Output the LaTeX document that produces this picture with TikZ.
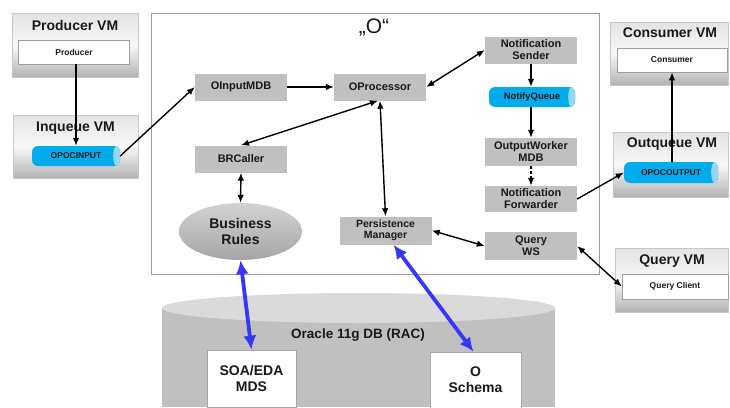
\documentclass[tikz,border=0pt]{standalone}
\usepackage{fontspec}
\setmainfont{Liberation Sans}
\usetikzlibrary{arrows.meta,shapes.geometric}
\definecolor{boxgray}{RGB}{192,192,192}
\definecolor{qblue}{RGB}{0,172,236}
\definecolor{qblueend}{RGB}{150,215,245}
\definecolor{arrblue}{RGB}{55,55,250}
\definecolor{txt}{RGB}{25,25,25}
\definecolor{dbbody}{RGB}{192,192,192}
\definecolor{dbtop}{RGB}{218,218,218}
\begin{document}
\begin{tikzpicture}[x=1pt,y=-1pt,
  comp/.style={fill=boxgray, minimum width=92pt, minimum height=27pt, inner sep=0pt, align=center,
    font=\bfseries\fontsize{11}{12}\selectfont, text=txt},
  vmbox/.style={draw=gray!45, line width=0.4pt, top color=gray!22, bottom color=gray!60, middle color=gray!5, inner sep=0pt},
  vmtitle/.style={font=\bfseries\fontsize{14}{15}\selectfont, text=txt, inner sep=0pt},
  inbox/.style={draw=gray!75, fill=white, line width=0.6pt, inner sep=0pt, font=\bfseries\fontsize{8.5}{9}\selectfont, text=txt},
  queue/.style={fill=qblue, rounded corners=6pt, inner sep=0pt, font=\bfseries\fontsize{8.5}{9}\selectfont, text=txt},
  arr/.style={-{Latex[length=8pt,width=6.5pt]}, line width=1.4pt, black},
  barr/.style={{Latex[length=8pt,width=6.5pt]}-{Latex[length=8pt,width=6.5pt]}, line width=1.4pt, black},
  bluearr/.style={{Latex[length=14pt,width=13pt]}-{Latex[length=14pt,width=13pt]}, line width=3.8pt, arrblue},
  dbbox/.style={draw=gray!70, fill=white, line width=0.6pt, inner sep=0pt, align=center,
    font=\bfseries\fontsize{14}{16}\selectfont, text=txt}
]
\useasboundingbox (0,0) rectangle (730,407);
\fill[white] (0,0) rectangle (730,407);

% ---------- Database cylinder ----------
\fill[dbbody] (162,308) rectangle (555,407);
\fill[dbtop] (358.5,308) ellipse [x radius=196.5pt, y radius=15pt];
\node[font=\bfseries\fontsize{13.5}{15}\selectfont, text=txt] (db) at (358,335) {Oracle 11g DB (RAC)};
\node[dbbox, minimum width=89pt, minimum height=57pt] (soa) at (251.5,378.5) {SOA/EDA\\MDS};
\node[dbbox, minimum width=91pt, minimum height=56pt] (osch) at (475.5,380) {O\\Schema};

% ---------- Main "O" box ----------
\node[draw=gray!75, line width=0.7pt, minimum width=448pt, minimum height=261pt, inner sep=0pt] (obox) at (375,143.5) {};
\node[font=\fontsize{21}{22}\selectfont, text=txt] (otitle) at (374,28) {„O“};

\node[comp] (oinput) at (241,87) {OInputMDB};
\node[comp] (oproc) at (380,87) {OProcessor};
\node[comp] (brc) at (241,159) {BRCaller};
\node[comp, minimum height=28pt, font=\bfseries\fontsize{10.5}{11.5}\selectfont] (pm) at (385.5,230.5) {Persistence\\Manager};
\node[ellipse, minimum width=123pt, minimum height=57pt, inner sep=0pt, top color=gray!35, middle color=gray!48, bottom color=gray!70,
  align=center, font=\bfseries\fontsize{14}{16}\selectfont, text=txt] (br) at (240.5,231.5) {Business\\Rules};
\node[comp] (nsend) at (531,50) {Notification\\Sender};
\node[queue, minimum width=86pt, minimum height=20pt, font=\bfseries\fontsize{9.5}{10}\selectfont] (nq) at (532,97) {NotifyQueue};
\fill[qblueend] ([xshift=-3.5pt]nq.east) ellipse [x radius=3.5pt, y radius=10pt];
\node[comp, minimum height=28pt] (ow) at (531,152) {OutputWorker\\MDB};
\node[comp, minimum height=26pt] (nfwd) at (531,199) {Notification\\Forwarder};
\node[comp, minimum height=28pt] (qws) at (531,246) {Query\\WS};

% ---------- Producer VM ----------
\node[vmbox, minimum width=126pt, minimum height=64pt] (prodvm) at (75,45) {};
\node[vmtitle] (prodt) at (75,25) {Producer VM};
\node[inbox, minimum width=111pt, minimum height=24pt] (prodin) at (74,52) {Producer};

% ---------- Inqueue VM ----------
\node[vmbox, minimum width=125pt, minimum height=63pt] (inqvm) at (75.5,146.5) {};
\node[vmtitle] (inqt) at (75.5,128) {Inqueue VM};
\node[queue, minimum width=88pt, minimum height=20pt] (inq) at (76,156) {OPOCINPUT};
\fill[qblueend] ([xshift=-3.5pt]inq.east) ellipse [x radius=3.5pt, y radius=10pt];

% ---------- Consumer VM ----------
\node[vmbox, minimum width=118pt, minimum height=63pt] (consvm) at (669,53.5) {};
\node[vmtitle] (const) at (670,33) {Consumer VM};
\node[inbox, minimum width=110pt, minimum height=24pt] (cons) at (672,60) {Consumer};

% ---------- Outqueue VM ----------
\node[vmbox, minimum width=115pt, minimum height=65pt] (outvm) at (670.5,164.5) {};
\node[vmtitle] (outt) at (672,144) {Outqueue VM};
\node[queue, minimum width=94pt, minimum height=21pt] (outq) at (671,172.5) {OPOCOUTPUT};
\fill[qblueend] ([xshift=-3.5pt]outq.east) ellipse [x radius=3.5pt, y radius=10.5pt];

% ---------- Query VM ----------
\node[vmbox, minimum width=113pt, minimum height=64pt] (qvm) at (671.5,280) {};
\node[vmtitle] (qt) at (672,261) {Query VM};
\node[inbox, minimum width=106pt, minimum height=25pt] (qc) at (675,286.5) {Query Client};

% ---------- Connectors ----------
\draw[arr] (prodin.south -| inq.north) -- (inq.north);
\draw[arr] (inq.east) -- (oinput.west);
\draw[arr] (oinput.east) -- (oproc.west);
\draw[barr] (nsend.west) -- (oproc.east);
\draw[barr] ([xshift=-2pt]oproc.south) -- (brc.north);
\draw[barr] (oproc.south) -- (pm.north);
\draw[barr] (brc.south) -- (br.north);
\draw[barr] (pm.east) -- (qws.west);
\draw[barr] (qws.east) -- (qc.west);
\draw[arr] (nsend.south) -- (nsend.south |- nq.north);
\draw[arr] (nq.south -| ow.north) -- (ow.north);
\draw[arr, dashed, dash pattern=on 3pt off 2pt] (ow.south) -- (nfwd.north);
\draw[arr] (nfwd.east) -- (outq.west);
\draw[arr] (outq.north -| cons.south) -- (cons.south);
\draw[bluearr] (br.south) -- (soa.north);
\draw[bluearr] ([xshift=8pt]pm.south) -- ([xshift=-2pt]osch.north);
\end{tikzpicture}
\end{document}
